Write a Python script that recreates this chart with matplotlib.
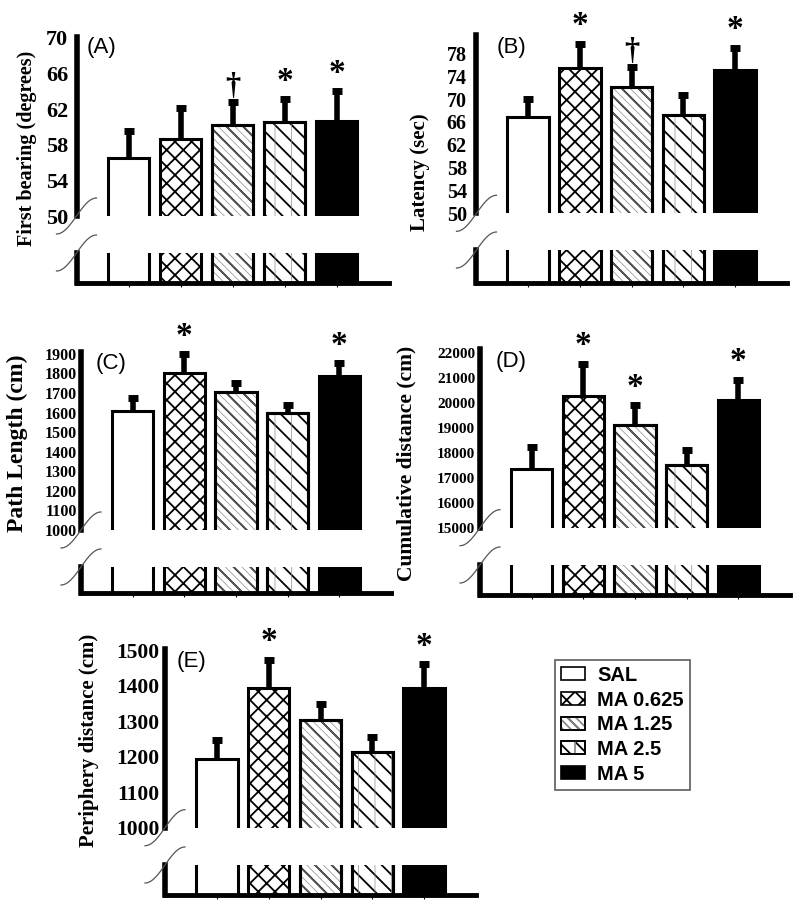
import numpy as np
import matplotlib
matplotlib.use('Agg')
import matplotlib.pyplot as plt
from matplotlib.patches import Patch
from matplotlib.lines import Line2D
from matplotlib.legend_handler import HandlerTuple

W, H = 800, 908

# grupos y datos
grupos = ['SAL', 'MA 0.625', 'MA 1.25', 'MA 2.5', 'MA 5']

bearing_media = [56.5, 58.6, 60.2, 60.5, 60.7]
bearing_sem = [3.0, 3.5, 2.6, 2.6, 3.3]
bearing_ticks = [50, 54, 58, 62, 66, 70]
bearing_marcas = ['', '', '†', '*', '*']

latency_media = [66.8, 75.4, 72.1, 67.2, 75.1]
latency_sem = [3.2, 4.2, 3.5, 3.5, 3.8]
latency_ticks = [50, 54, 58, 62, 66, 70, 74, 78]
latency_marcas = ['', '*', '†', '', '*']

path_media = [1608, 1804, 1704, 1596, 1787]
path_sem = [68, 94, 49, 41, 65]
path_ticks = [1000, 1100, 1200, 1300, 1400, 1500, 1600, 1700, 1800, 1900]
path_marcas = ['', '*', '', '', '*']

cum_media = [17370, 20261, 19096, 17503, 20100]
cum_sem = [856, 1312, 804, 616, 830]
cum_ticks = [15000, 16000, 17000, 18000, 19000, 20000, 21000, 22000]
cum_marcas = ['', '*', '*', '', '*']

peri_media = [1192, 1394, 1303, 1214, 1392]
peri_sem = [55, 78, 44, 42, 68]
peri_ticks = [1000, 1100, 1200, 1300, 1400, 1500]
peri_marcas = ['', '*', '', '', '*']

# estilo de cada grupo: relleno, trama negra, trama gris
relleno = ['white', 'white', 'white', 'white', 'black']
trama = [None, 'xx', '\\\\', '\\\\', None]
trama_gris = [None, None, '\\\\\\\\', '|', None]

plt.rcParams['font.family'] = ['Liberation Serif', 'DejaVu Serif']
plt.rcParams['hatch.linewidth'] = 1.3

fig = plt.figure(figsize=(W / 100, H / 100), dpi=100)


def rect(x0, x1, ytop, ybot):
    return [x0 / W, 1 - ybot / H, (x1 - x0) / W, (ybot - ytop) / H]


def barras(ax, bottom, alturas, x):
    for i in range(len(grupos)):
        ax.bar(x[i], alturas[i], bottom=bottom, width=0.8, color=relleno[i],
               edgecolor='black', linewidth=2.2, hatch=trama[i], zorder=2)
        if trama_gris[i]:
            with plt.rc_context({'hatch.linewidth': 0.5}):
                ax.bar(x[i], alturas[i], bottom=bottom, width=0.8, color='none',
                       edgecolor='#8c8c8c', linewidth=0, hatch=trama_gris[i], zorder=2.1)
            # borde negro otra vez encima de la trama gris
            ax.bar(x[i], alturas[i], bottom=bottom, width=0.8, color='none',
                   edgecolor='black', linewidth=2.2, zorder=2.2)


def quiebre(px, py):
    t = np.linspace(-1, 1, 40)
    xs = px - 20 * t
    ys = py + 18 * np.sin(np.pi / 2 * t)
    fig.add_artist(Line2D(xs / W, 1 - ys / H, transform=fig.transFigure,
                          color='#555555', lw=0.9))


def panel(letra, media, sem, ticks, ytop_val, marcas, ylabel, geo, fs_tick, fs_lab, pad):
    x0, x1, ytop, ymid, ylow, ybot, lx, ly, tx, ty = geo
    x = np.arange(1, 6)
    media = np.array(media, dtype=float)
    tope = media + np.array(sem, dtype=float)
    # parte superior
    ax = fig.add_axes(rect(x0, x1, ytop, ymid))
    ymin = ticks[0]
    base = ymin - (ytop_val - ymin) * 0.2
    barras(ax, base, media - base, x)
    ax.vlines(x, media, tope, color='black', lw=4, zorder=3)
    ax.plot(x, tope, ls='none', marker='_', ms=6.5, mew=5, color='black', zorder=3,
            clip_on=False)
    for i in range(5):
        if marcas[i]:
            off = 7 if marcas[i] == '*' else 6
            ax.annotate(marcas[i], xy=(x[i], tope[i]), xytext=(0, off),
                        textcoords='offset points', ha='center', va='baseline',
                        fontsize=24 if marcas[i] == '*' else 22, fontweight='bold',
                        annotation_clip=False)
    ax.set_xlim(0, 6)
    ax.set_ylim(ymin, ytop_val)
    ax.set_yticks(ticks)
    ax.tick_params(axis='y', length=0, pad=pad, labelsize=fs_tick)
    for lab in ax.get_yticklabels():
        lab.set_fontweight('bold')
    ax.set_xticks([])
    for s in ['top', 'right', 'bottom']:
        ax.spines[s].set_visible(False)
    ax.spines['left'].set_linewidth(4)
    ax.patch.set_visible(False)

    # parte inferior (tramo cortado)
    ax2 = fig.add_axes(rect(x0, x1, ylow, ybot))
    barras(ax2, 0, [2] * 5, x)
    ax2.set_xlim(0, 6)
    ax2.set_ylim(0, 1)
    ax2.set_yticks([])
    ax2.set_xticks(x)
    ax2.set_xticklabels([])
    ax2.tick_params(axis='x', length=3, width=0.8, direction='out')
    for s in ['top', 'right']:
        ax2.spines[s].set_visible(False)
    ax2.spines['left'].set_linewidth(4)
    ax2.spines['bottom'].set_linewidth(3.5)
    ax2.patch.set_visible(False)

    quiebre(x0, ymid)
    quiebre(x0, ylow)

    fig.text(lx / W, 1 - ly / H, ylabel, rotation=90, ha='center', va='center',
             fontsize=fs_lab, fontweight='bold')
    fig.text(tx / W, 1 - ty / H, letra, ha='left', va='center', fontsize=16,
             family='Liberation Sans')


panel('(A)', bearing_media, bearing_sem, bearing_ticks, 70.1, bearing_marcas,
      'First bearing (degrees)', (76.5, 388.5, 37, 216, 253, 283, 27, 148, 87, 47), 16, 14.5, 6)
panel('(B)', latency_media, latency_sem, latency_ticks, 81.2, latency_marcas,
      'Latency (sec)', (476.5, 786.5, 35, 213.3, 250, 283, 420, 172, 497, 47), 14.5, 15, 7)
panel('(C)', path_media, path_sem, path_ticks, 1911, path_marcas,
      'Path Length (cm)', (81, 391, 351.7, 530, 567, 593, 17, 443, 96, 364), 11.5, 17, 3)
panel('(D)', cum_media, cum_sem, cum_ticks, 22144, cum_marcas,
      'Cumulative distance (cm)', (480, 790, 349.3, 527.7, 565, 595, 406, 463, 496, 362), 11, 15.5, 3.5)
panel('(E)', peri_media, peri_sem, peri_ticks, 1503, peri_marcas,
      'Periphery distance (cm)', (165, 476, 649, 827.7, 865, 895, 89, 740, 177, 661), 15.5, 15, 4)

# leyenda
handles = []
for i in range(5):
    p = Patch(facecolor=relleno[i], edgecolor='black', linewidth=1.2, hatch=trama[i])
    if trama_gris[i]:
        g = Patch(facecolor='none', edgecolor='#8c8c8c', linewidth=0, hatch=trama_gris[i])
        b = Patch(facecolor='none', edgecolor='black', linewidth=1.2)
        handles.append((p, g, b))
    else:
        handles.append(p)
leg = fig.legend(handles, grupos, loc='upper left', bbox_to_anchor=(555 / W, 1 - 660 / H),
                 borderaxespad=0, frameon=True, fancybox=False, edgecolor='#333333',
                 handlelength=1.2, handleheight=0.62, handletextpad=0.6, labelspacing=0.28,
                 borderpad=0.3, handler_map={tuple: HandlerTuple(ndivide=1)},
                 prop={'family': 'Liberation Sans', 'weight': 'bold', 'size': 14.5})
leg.get_frame().set_linewidth(1.2)

fig.savefig('out.png', dpi=100)
